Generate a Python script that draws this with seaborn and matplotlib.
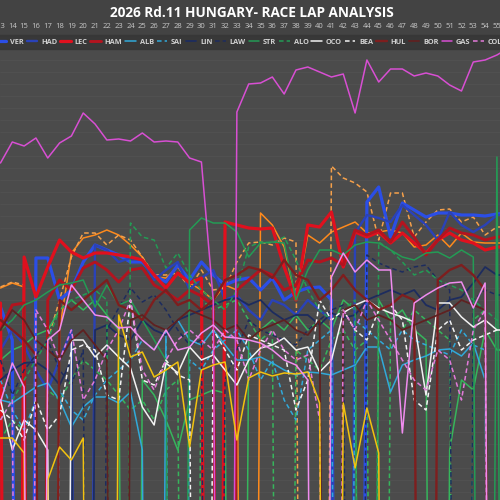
import matplotlib
matplotlib.use('Agg')
import matplotlib.pyplot as plt
import seaborn as sns
from matplotlib.ticker import MultipleLocator

# lap numbers and lap times (s) per driver
laps = list(range(13, 57))

drivers = ['NOR', 'PIA', 'RUS', 'ANT', 'VER', 'HAD', 'LEC', 'HAM', 'ALB', 'SAI', 'LIN',
           'LAW', 'STR', 'ALO', 'OCO', 'BEA', 'HUL', 'BOR', 'GAS', 'COL', 'PER', 'BOT']

nor = [80.88, 80.83, 80.87, 98.2, 97.6, 81.30, 80.53, 80.38, 80.35, 80.30, 80.35, 80.45, 80.57, 80.77, 80.78,
       80.67, 80.83, 80.90, 81.00, 80.85, 80.90, 98.5, 80.13, 80.25, 80.47, 81.00, 80.35, 80.43, 80.32, 80.27,
       80.22, 80.33, 80.32, 80.30, 80.33, 80.47, 80.45, 80.35, 80.47, 80.33, 80.42, 80.43, 80.43, 80.43]
pia = [80.87, 80.82, 80.85, 98.0, 81.40, 81.00, 80.57, 80.33, 80.33, 80.45, 80.35, 80.40, 80.57, 80.75, 80.75,
       80.73, 80.87, 80.70, 80.90, 80.88, 80.62, 80.43, 80.42, 80.45, 80.38, 80.42, 97.9, 98.3, 79.66, 79.78,
       79.83, 79.92, 80.40, 79.93, 79.93, 80.37, 80.22, 80.10, 80.09, 80.22, 80.17, 80.35, 80.27, 80.27]
rus = [81.60, 81.50, 81.45, 81.35, 81.30, 81.10, 81.00, 81.10, 81.00, 81.15, 81.30, 98.2, 81.80, 81.95, 82.20,
       82.50, 82.00, 81.95, 81.90, 81.93, 98.0, 81.40, 81.30, 81.20, 81.30, 81.15, 81.30, 81.20, 81.30, 81.00,
       81.10, 98.3, 81.00, 81.20, 81.10, 81.30, 81.40, 98.1, 82.50, 81.80, 81.90, 81.30, 81.50, 81.50]
ant = [82.40, 82.20, 82.30, 98.0, 81.90, 82.00, 81.80, 81.60, 81.70, 81.80, 81.95, 82.10, 82.00, 82.20, 81.90,
       81.80, 98.3, 81.00, 81.10, 81.05, 81.00, 81.20, 81.40, 81.30, 98.1, 81.50, 81.60, 81.70, 81.40, 81.30,
       81.50, 81.40, 98.2, 81.20, 81.30, 81.10, 81.20, 81.30, 81.40, 98.4, 81.20, 81.10, 98.0, 98.6]
ver = [81.07, 81.40, 98.4, 80.58, 80.58, 81.00, 80.90, 80.62, 80.45, 80.50, 80.55, 80.62, 80.62, 80.75, 80.82,
       80.65, 80.80, 80.62, 80.75, 80.85, 80.80, 80.78, 80.90, 80.78, 81.00, 80.92, 80.88, 80.87, 81.00, 98.6,
       98.2, 80.02, 79.87, 80.37, 80.03, 80.10, 80.17, 80.13, 80.13, 80.15, 80.15, 80.16, 80.14, 80.13]
had = [81.50, 81.30, 81.45, 81.70, 81.90, 81.60, 81.30, 97.7, 80.45, 80.50, 80.62, 80.58, 80.60, 80.80, 80.70,
       80.62, 80.90, 80.78, 80.70, 81.00, 80.95, 81.10, 81.20, 81.00, 81.05, 81.15, 81.00, 81.10, 81.20, 98.0,
       80.33, 80.15, 80.18, 80.22, 80.05, 80.15, 80.25, 80.40, 80.12, 80.25, 80.32, 80.25, 80.15, 80.15]
lec = [81.03, 98.3, 80.57, 80.97, 80.67, 80.40, 80.52, 80.58, 80.53, 80.53, 80.55, 80.57, 80.60, 80.75, 80.88,
       80.73, 80.83, 80.78, 98.1, 80.22, 80.25, 80.28, 80.29, 80.28, 80.67, 81.00, 80.25, 80.27, 80.12, 80.67,
       80.32, 80.37, 80.32, 80.43, 80.33, 80.43, 80.53, 80.40, 80.33, 80.40, 80.43, 80.50, 80.47, 80.47]
ham = [81.30, 81.05, 81.03, 97.9, 81.00, 80.80, 80.90, 80.68, 80.62, 80.70, 80.82, 80.70, 80.68, 80.85, 80.92,
       81.00, 80.90, 80.96, 81.05, 98.4, 80.90, 80.80, 80.70, 80.75, 80.90, 80.85, 80.60, 80.62, 80.58, 80.65,
       80.30, 80.35, 80.30, 80.42, 80.22, 80.37, 80.55, 80.40, 80.28, 80.33, 80.35, 80.40, 80.37, 80.37]
alb = [82.00, 82.03, 81.95, 81.87, 81.83, 82.00, 82.27, 82.07, 81.97, 81.97, 82.03, 81.92, 82.50, 98.0, 81.30,
       81.20, 81.40, 81.45, 81.30, 81.45, 81.60, 81.60, 81.57, 81.63, 81.70, 81.75, 81.72, 81.73, 81.75, 81.70,
       81.65, 81.47, 81.47, 81.92, 81.65, 81.60, 81.56, 81.50, 81.49, 81.56, 81.43, 81.80, 98.2, 98.5]
sai = [81.80, 82.10, 82.30, 82.00, 97.8, 81.90, 82.10, 82.20, 81.95, 81.80, 81.70, 81.60, 81.40, 81.50, 81.30,
       98.1, 81.60, 81.70, 81.50, 81.40, 81.30, 81.50, 81.80, 81.60, 82.00, 82.20, 81.50, 81.40, 81.30, 98.3,
       81.20, 81.30, 81.40, 81.50, 81.30, 81.40, 81.45, 81.50, 81.55, 81.30, 81.45, 81.50, 98.0, 98.6]
lin = [81.80, 81.70, 81.63, 81.62, 81.70, 81.85, 81.60, 98.2, 81.30, 81.25, 81.35, 81.40, 81.20, 81.30, 81.35,
       81.20, 81.15, 81.10, 81.05, 81.00, 80.98, 81.05, 81.00, 81.12, 81.20, 81.15, 81.15, 81.25, 81.13, 81.18,
       81.15, 81.00, 80.95, 80.90, 80.95, 80.90, 81.05, 81.10, 81.00, 80.97, 80.83, 80.67, 80.75, 80.75]
law = [81.60, 81.95, 81.70, 81.55, 81.40, 81.70, 81.85, 81.50, 98.1, 81.30, 81.08, 80.88, 81.02, 80.95, 81.10,
       81.30, 81.45, 81.40, 97.9, 81.80, 81.50, 81.20, 81.30, 81.35, 81.40, 81.45, 81.30, 81.20, 81.10, 81.05,
       98.4, 80.55, 80.63, 80.68, 80.72, 80.67, 80.65, 80.80, 80.90, 98.0, 81.00, 80.90, 80.95, 80.95]
stro = [81.30, 81.20, 81.05, 81.00, 80.92, 80.85, 80.83, 80.80, 81.07, 80.85, 81.05, 81.00, 81.20, 81.40, 81.60,
        98.3, 80.30, 80.18, 80.23, 80.23, 80.32, 80.57, 80.43, 80.42, 80.43, 81.00, 80.70, 80.50, 80.50, 80.55,
        80.45, 80.42, 80.43, 80.50, 80.57, 80.60, 80.53, 80.52, 80.58, 80.50, 80.57, 98.1, 79.57, 98.4]
alo = [82.20, 82.00, 81.80, 81.60, 81.40, 81.10, 81.00, 80.95, 80.90, 81.00, 98.0, 80.23, 80.37, 80.40, 80.68,
       80.53, 80.75, 80.90, 81.00, 81.10, 80.90, 80.47, 80.42, 80.43, 80.37, 80.60, 80.90, 81.10, 81.20, 81.10,
       81.00, 98.2, 80.42, 80.50, 80.62, 80.75, 80.70, 80.80, 80.85, 80.90, 81.00, 81.10, 81.20, 81.20]
oco = [82.00, 82.50, 82.20, 82.30, 82.50, 98.0, 81.40, 81.40, 81.57, 81.45, 81.57, 81.68, 82.07, 82.25, 81.63,
       81.73, 81.47, 81.60, 81.55, 81.70, 81.85, 81.60, 81.48, 81.45, 81.38, 81.50, 81.47, 81.72, 81.60, 81.13,
       81.05, 81.00, 81.08, 81.13, 81.17, 81.22, 81.95, 81.03, 81.03, 81.17, 81.27, 81.20, 81.30, 81.30]
bea = [82.10, 82.20, 82.40, 82.00, 82.30, 82.15, 81.50, 81.45, 81.50, 81.95, 82.00, 81.00, 81.80, 81.85, 81.60,
       81.75, 81.80, 98.1, 81.30, 81.50, 81.70, 81.35, 81.40, 81.45, 81.50, 82.10, 81.80, 81.00, 81.20, 81.10,
       81.30, 81.40, 81.10, 81.05, 81.20, 82.00, 82.10, 81.30, 81.20, 81.50, 81.40, 81.35, 81.30, 81.30]
hul = [81.20, 81.30, 81.40, 81.55, 98.2, 81.00, 81.10, 81.00, 80.90, 80.80, 81.05, 81.10, 81.20, 81.00, 80.90,
       81.05, 81.00, 81.10, 81.00, 80.80, 80.75, 80.67, 80.70, 80.78, 80.60, 80.75, 80.80, 81.00, 80.90, 80.75,
       80.90, 81.00, 81.10, 81.05, 80.95, 81.00, 98.0, 80.80, 80.70, 80.65, 80.75, 80.90, 98.3, 98.7]
bor = [81.30, 81.10, 81.20, 81.40, 81.50, 81.60, 81.40, 81.30, 81.45, 81.60, 97.9, 81.20, 81.15, 81.25, 81.30,
       81.20, 81.10, 81.15, 81.20, 81.30, 81.25, 81.40, 81.30, 81.25, 81.20, 81.30, 81.35, 81.20, 98.1, 81.10,
       81.05, 81.20, 81.15, 81.20, 81.30, 81.25, 81.20, 81.15, 81.10, 81.00, 81.05, 81.10, 98.0, 98.5]
gas = [79.63, 79.42, 79.46, 79.38, 79.58, 79.43, 79.36, 79.13, 79.24, 79.40, 79.39, 79.41, 79.33, 79.42, 79.41,
       79.42, 79.58, 79.62, 81.00, 98.1, 79.12, 78.84, 78.83, 78.77, 78.94, 78.70, 78.67, 78.72, 78.77, 78.74,
       79.13, 78.60, 78.82, 78.69, 78.69, 78.76, 78.73, 78.76, 78.85, 78.91, 78.62, 78.60, 78.55, 78.48]
col = [82.20, 82.00, 98.2, 81.10, 81.30, 81.60, 81.30, 82.00, 81.80, 81.50, 81.30, 81.00, 81.70, 81.90, 81.60,
       81.40, 81.30, 81.40, 81.50, 81.30, 81.40, 81.80, 81.50, 81.30, 81.50, 81.60, 81.55, 82.20, 98.0, 81.10,
       81.30, 81.00, 81.20, 81.40, 81.60, 81.80, 81.90, 81.50, 81.60, 82.00, 81.30, 81.10, 98.3, 98.6]
per = [82.38, 82.38, 82.53, 98.1, 82.80, 82.47, 82.60, 82.38, 98.0, 98.4, 81.15, 81.57, 81.52, 81.77, 81.70,
       81.62, 82.47, 81.70, 81.65, 81.62, 82.40, 81.78, 81.72, 81.76, 81.73, 81.74, 81.72, 82.03, 98.2, 82.03,
       82.68, 82.08, 82.53, 98.1, 98.3, 98.0, 98.4, 98.2, 98.1, 98.3, 98.0, 98.2, 98.4, 98.1]
bot = [82.02, 81.63, 81.87, 98.0, 81.40, 81.30, 80.85, 81.00, 81.15, 81.17, 81.28, 81.27, 81.40, 81.50, 81.30,
       81.50, 81.47, 81.33, 81.25, 81.37, 81.38, 81.40, 81.43, 81.50, 81.60, 81.65, 81.80, 98.3, 80.77, 80.53,
       80.72, 80.60, 80.70, 80.70, 82.33, 81.03, 80.95, 80.88, 80.83, 80.82, 81.08, 80.83, 98.1, 98.5]

times = dict(zip(drivers, [nor, pia, rus, ant, ver, had, lec, ham, alb, sai, lin, law,
                           stro, alo, oco, bea, hul, bor, gas, col, per, bot]))

colors = {'NOR': '#ff8a1c', 'PIA': '#f5a04a', 'RUS': '#36b55c', 'ANT': '#36b55c',
          'VER': '#2b4ee6', 'HAD': '#2a42b8', 'LEC': '#e0101e', 'HAM': '#b3141f',
          'ALB': '#31a9d9', 'SAI': '#31a9d9', 'LIN': '#1d2c5e', 'LAW': '#1d2c5e',
          'STR': '#249b55', 'ALO': '#249b55', 'OCO': '#f2f2f2', 'BEA': '#f2f2f2',
          'HUL': '#7e1e1e', 'BOR': '#5f2121', 'GAS': '#d84fd3', 'COL': '#e27ad9',
          'PER': '#f2c20f', 'BOT': '#f08cef'}
widths = {'VER': 2.3, 'HAD': 1.7, 'LEC': 2.3, 'HAM': 2.1, 'HUL': 1.7, 'BOR': 1.3, 'LIN': 1.3}
dashed = ['PIA', 'ANT', 'SAI', 'LAW', 'ALO', 'BEA', 'COL']

sns.set_theme(style='dark')
plt.rcParams['font.family'] = ['Open Sans', 'DejaVu Sans']

fig = plt.figure(figsize=(5, 5), dpi=100, facecolor='#434343')
ax = fig.add_axes([0, 0, 1, 0.9])
ax.set_facecolor('#4b4b4b')

for code in drivers:
    sns.lineplot(x=laps, y=times[code], color=colors[code], lw=widths.get(code, 1.1),
                 ax=ax, label=code, legend=False)
    if code in dashed:
        ax.get_lines()[-1].set_dashes((3, 2))

ax.set_xlim(12.96, 55.26)
ax.set_ylim(83.0, 78.5)
ax.xaxis.tick_top()
ax.set_xticks(laps[:-1])
ax.tick_params(axis='x', length=0, pad=14.5, labelsize=5.5, labelcolor='#c8c8c8')
ax.yaxis.set_major_locator(MultipleLocator(0.12))
ax.tick_params(axis='y', length=0, labelleft=False)
ax.grid(axis='y', color='#515151', lw=0.6)
ax.grid(axis='x', visible=False)
ax.set_xlabel('')
ax.set_ylabel('')
for s in ax.spines.values():
    s.set_visible(False)

fig.text(0.504, 0.974, '2026 Rd.11 HUNGARY- RACE LAP ANALYSIS', ha='center', va='center',
         fontsize=9.8, fontweight='bold', color='white')

handles = ax.get_lines()[:len(drivers)]
leg = fig.legend(handles, drivers, ncol=len(drivers), loc='center left',
                 bbox_to_anchor=(0.0, 0.916), frameon=True, fancybox=False,
                 prop={'size': 5.3, 'weight': 'bold'}, labelcolor='#d0d0d0',
                 handlelength=1.45, handletextpad=0.5, columnspacing=0.4, borderpad=0.4)
leg.get_frame().set_facecolor('#363636')
leg.get_frame().set_edgecolor('#363636')

# shift the legend so the VER entry sits where it does in the source
fig.canvas.draw()
r = fig.canvas.get_renderer()
ver_txt = [t for t in leg.get_texts() if t.get_text() == 'VER'][0]
bb = ver_txt.get_window_extent(r)
shift = (17 - (bb.x0 + bb.x1) / 2) / fig.bbox.width
leg.set_bbox_to_anchor((shift, 0.916), transform=fig.transFigure)

fig.savefig('out.png', dpi=100, facecolor=fig.get_facecolor())
